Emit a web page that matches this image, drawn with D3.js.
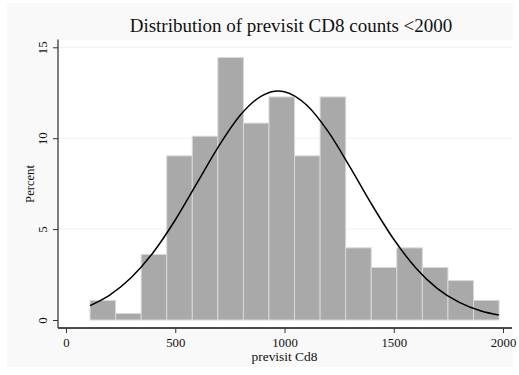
<!DOCTYPE html>
<html>
<head>
<meta charset="utf-8">
<script src="https://cdn.jsdelivr.net/npm/d3@7"></script>
<style>
  body { margin: 0; background: #fff; }
  text { font-family: "Liberation Serif", "Times New Roman", serif; fill: #111; }
</style>
</head>
<body>
<svg id="chart"></svg>
<script>
// histogram bins (previsit Cd8), percent of patients
const binEdges = [110, 227, 344, 461, 578, 695, 812, 929, 1046, 1163, 1280, 1397, 1514, 1631, 1748, 1865, 1982];
const percents = [1.08, 0.36, 3.61, 9.03, 10.11, 14.44, 10.83, 12.27, 9.03, 12.27, 3.97, 2.89, 3.97, 2.89, 2.17, 1.08];

// normal density overlay
const curveX = [110, 200, 300, 400, 500, 600, 700, 800, 900, 971, 1000, 1100, 1200, 1300, 1400, 1500, 1600, 1700, 1800, 1900, 1981];
const curveY = [0.79, 1.37, 2.35, 3.73, 5.5, 7.54, 9.58, 11.3, 12.36, 12.6, 12.56, 11.84, 10.36, 8.41, 6.34, 4.44, 2.88, 1.73, 0.97, 0.5, 0.28];

const xTicks = [0, 500, 1000, 1500, 2000];
const yTicks = [0, 5, 10, 15];

const W = 519, H = 375;
const svg = d3.select("#chart").attr("width", W).attr("height", H);

const x = d3.scaleLinear().domain([0, 2000]).range([66, 503]);
const y = d3.scaleLinear().domain([0, 15]).range([320, 47.3]);

const axisY = 328;   // x axis line position
const axisX = 58;    // y axis line position

// graph region + plot region backgrounds
svg.append("rect").attr("x", 7).attr("y", 3).attr("width", 506).attr("height", 364).attr("fill", "#f9f9f9");
svg.append("rect").attr("x", axisX).attr("y", 40).attr("width", 513 - axisX).attr("height", axisY - 40).attr("fill", "#fff");

// faint gridlines
svg.append("g").selectAll("line")
    .data(yTicks.slice(1))
    .join("line")
    .attr("x1", axisX).attr("x2", 512)
    .attr("y1", d => y(d)).attr("y2", d => y(d))
    .attr("stroke", "#f1f1f1").attr("stroke-width", 1);

// bars
svg.append("g").selectAll("rect")
    .data(percents)
    .join("rect")
    .attr("x", (d, i) => x(binEdges[i]))
    .attr("width", (d, i) => x(binEdges[i + 1]) - x(binEdges[i]))
    .attr("y", d => y(d))
    .attr("height", d => y(0) - y(d))
    .attr("fill", "#a9a9a9")
    .attr("stroke", "#d9d9d9")
    .attr("stroke-width", 1);

// normal curve
const line = d3.line()
    .x(d => x(d[0]))
    .y(d => y(d[1]))
    .curve(d3.curveMonotoneX);
svg.append("path")
    .datum(d3.zip(curveX, curveY))
    .attr("d", line)
    .attr("fill", "none")
    .attr("stroke", "#000")
    .attr("stroke-width", 1.5);

// x axis
const gx = svg.append("g").attr("transform", `translate(0,${axisY})`)
    .call(d3.axisBottom(x).tickValues(xTicks).tickSize(5).tickPadding(4.5).tickFormat(d3.format("d")));
gx.select(".domain").attr("d", `M${axisX},0H512`).attr("stroke", "#111").attr("stroke-width", 1.3);
gx.selectAll(".tick line").attr("stroke", "#333");
gx.selectAll(".tick text").attr("font-size", 12.8).attr("fill", "#111");

// y axis
const gy = svg.append("g").attr("transform", `translate(${axisX},0)`)
    .call(d3.axisLeft(y).tickValues(yTicks).tickSize(5).tickFormat(d3.format("d")));
gy.select(".domain").attr("d", `M0,39.5V${axisY}`).attr("stroke", "#555").attr("stroke-width", 1.5);
gy.selectAll(".tick line").attr("stroke", "#333");
gy.selectAll(".tick text")
    .attr("font-size", 12.8).attr("fill", "#111")
    .attr("x", null).attr("dy", null)
    .attr("text-anchor", "middle")
    .attr("transform", "translate(-11.5,0) rotate(-90)");

// labels
svg.append("text")
    .attr("x", 291).attr("y", 32)
    .attr("text-anchor", "middle")
    .attr("font-size", 19)
    .text("Distribution of previsit CD8 counts <2000");

svg.append("text")
    .attr("x", 284.5).attr("y", 361)
    .attr("text-anchor", "middle")
    .attr("font-size", 13.4)
    .text("previsit Cd8");

svg.append("text")
    .attr("transform", "translate(33.5,184) rotate(-90)")
    .attr("text-anchor", "middle")
    .attr("font-size", 12.6)
    .text("Percent");
</script>
</body>
</html>
